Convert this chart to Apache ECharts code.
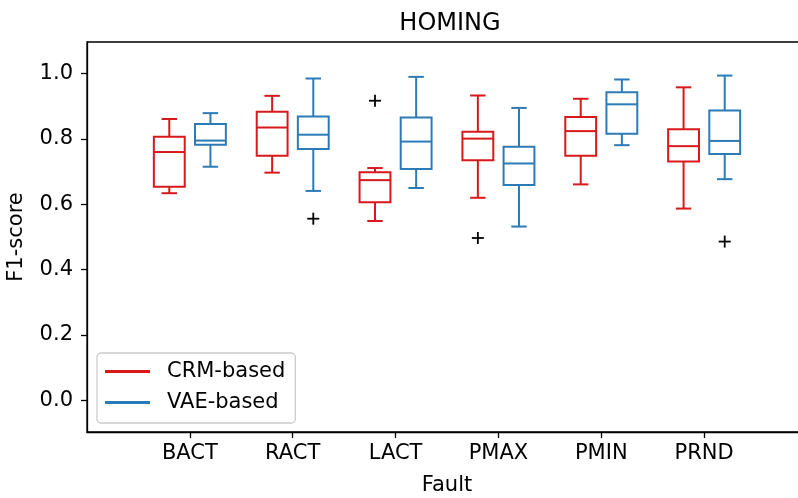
<!DOCTYPE html>
<html>
<head>
<meta charset="utf-8">
<script src="https://cdn.jsdelivr.net/npm/echarts@6/dist/echarts.min.js"></script>
<style>
  html, body { margin: 0; padding: 0; background: #fff; }
  #chart { width: 798px; height: 498px; }
</style>
</head>
<body>
<div id="chart"></div>
<script>
// Fault categories on the x axis
const categories = ['BACT', 'RACT', 'LACT', 'PMAX', 'PMIN', 'PRND'];

// Box statistics per fault: [lower whisker, Q1, median, Q3, upper whisker]
const crmStats = [
  [0.634, 0.654, 0.760, 0.807, 0.861],
  [0.697, 0.749, 0.835, 0.883, 0.932],
  [0.549, 0.606, 0.674, 0.698, 0.711],
  [0.620, 0.735, 0.801, 0.822, 0.933],
  [0.661, 0.749, 0.824, 0.867, 0.923],
  [0.587, 0.731, 0.778, 0.830, 0.958]
];
const vaeStats = [
  [0.715, 0.782, 0.795, 0.846, 0.879],
  [0.641, 0.769, 0.813, 0.869, 0.985],
  [0.650, 0.708, 0.792, 0.866, 0.990],
  [0.532, 0.659, 0.725, 0.776, 0.895],
  [0.781, 0.816, 0.906, 0.943, 0.982],
  [0.677, 0.754, 0.794, 0.887, 0.994]
];

// Outliers: [category index, value]
const crmOutliers = [[2, 0.917], [3, 0.497]];
const vaeOutliers = [[1, 0.556], [5, 0.486]];

// Y axis tick values
const yTicks = [0.0, 0.2, 0.4, 0.6, 0.8, 1.0];

const CRM_COLOR = '#d7191c';
const VAE_COLOR = '#2c7bb6';
const FONT = 'DejaVu Sans';
const BOX_W = 0.3;
const OFFSET = 0.2;
const X_MAX = 7;

function boxData(stats) {
  return stats.map((s, i) => [i + 1].concat(s));
}

function boxRenderer(offset, color) {
  return function (params, api) {
    const x = api.value(0) + offset;
    const lo = api.coord([x, api.value(1)]);
    const q1 = api.coord([x, api.value(2)]);
    const med = api.coord([x, api.value(3)]);
    const q3 = api.coord([x, api.value(4)]);
    const hi = api.coord([x, api.value(5)]);
    const w = api.size([BOX_W, 0])[0];
    const cw = w / 2;
    const cx = q1[0];
    const style = { stroke: color, lineWidth: 2, fill: null };
    const line = (x1, y1, x2, y2) => ({
      type: 'line', shape: { x1, y1, x2, y2 }, style
    });
    return {
      type: 'group',
      children: [
        { type: 'rect', shape: { x: cx - w / 2, y: q3[1], width: w, height: q1[1] - q3[1] }, style },
        line(cx - w / 2, med[1], cx + w / 2, med[1]),
        line(cx, q3[1], cx, hi[1]),
        line(cx, q1[1], cx, lo[1]),
        line(cx - cw / 2, hi[1], cx + cw / 2, hi[1]),
        line(cx - cw / 2, lo[1], cx + cw / 2, lo[1])
      ]
    };
  };
}

function outlierRenderer(offset) {
  return function (params, api) {
    const p = api.coord([api.value(0) + 1 + offset, api.value(1)]);
    const h = 6;
    const style = { stroke: '#000', lineWidth: 1.8 };
    return {
      type: 'group',
      children: [
        { type: 'line', shape: { x1: p[0] - h, y1: p[1], x2: p[0] + h, y2: p[1] }, style },
        { type: 'line', shape: { x1: p[0], y1: p[1] - h, x2: p[0], y2: p[1] + h }, style }
      ]
    };
  };
}

const chart = echarts.init(document.getElementById('chart'), null, { renderer: 'canvas' });

const tickPositions = categories.map((c, i) => i + 1);

chart.setOption({
  animation: false,
  backgroundColor: '#fff',
  textStyle: { fontFamily: FONT },
  title: {
    text: 'HOMING',
    left: 445,
    top: 7,
    textAlign: 'center',
    textStyle: { fontFamily: FONT, fontSize: 24, fontWeight: 'normal', color: '#000' }
  },
  grid: {
    left: 87,
    top: 42,
    width: 720,
    height: 390,
    outerBoundsMode: 'none',
    containLabel: false,
    show: true,
    borderColor: '#000',
    borderWidth: 1.3,
    backgroundColor: 'transparent'
  },
  legend: {
    orient: 'vertical',
    left: 97,
    top: 353,
    padding: [8, 10, 10, 8],
    itemGap: 10,
    itemWidth: 45,
    itemHeight: 3,
    icon: 'rect',
    backgroundColor: 'rgba(255,255,255,0.8)',
    borderColor: '#cccccc',
    borderWidth: 1.3,
    borderRadius: 4,
    textStyle: { fontFamily: FONT, fontSize: 21, color: '#000', padding: [0, 0, 0, 12] },
    data: ['CRM-based', 'VAE-based']
  },
  xAxis: {
    type: 'value',
    min: 0,
    max: X_MAX,
    name: 'Fault',
    nameLocation: 'middle',
    nameGap: 43,
    nameTextStyle: { fontFamily: FONT, fontSize: 21, color: '#000' },
    splitLine: { show: false },
    axisLine: { show: true, onZero: false, lineStyle: { color: '#000', width: 1.3 } },
    axisTick: {
      show: true, length: 6, lineStyle: { color: '#000', width: 1.3 },
      customValues: tickPositions
    },
    axisLabel: {
      fontFamily: FONT, fontSize: 21, color: '#000', margin: 11,
      customValues: tickPositions,
      formatter: v => categories[Math.round(v) - 1] || ''
    }
  },
  yAxis: {
    type: 'value',
    min: -0.0967,
    max: 1.0967,
    name: 'F1-score',
    nameLocation: 'middle',
    nameGap: 60,
    nameTextStyle: { fontFamily: FONT, fontSize: 21, color: '#000' },
    splitLine: { show: false },
    axisLine: { show: true, onZero: false, lineStyle: { color: '#000', width: 1.3 } },
    axisTick: {
      show: true, length: 6, lineStyle: { color: '#000', width: 1.3 },
      customValues: yTicks
    },
    axisLabel: {
      fontFamily: FONT, fontSize: 21, color: '#000', margin: 14,
      customValues: yTicks,
      formatter: v => v.toFixed(1)
    }
  },
  series: [
    {
      name: 'CRM-based',
      type: 'custom',
      itemStyle: { color: CRM_COLOR },
      renderItem: boxRenderer(-OFFSET, CRM_COLOR),
      encode: { x: 0, y: [1, 2, 3, 4, 5] },
      data: boxData(crmStats),
      z: 3
    },
    {
      name: 'VAE-based',
      type: 'custom',
      itemStyle: { color: VAE_COLOR },
      renderItem: boxRenderer(OFFSET, VAE_COLOR),
      encode: { x: 0, y: [1, 2, 3, 4, 5] },
      data: boxData(vaeStats),
      z: 3
    },
    {
      name: 'CRM outliers',
      type: 'custom',
      renderItem: outlierRenderer(-OFFSET),
      encode: { x: 0, y: 1 },
      data: crmOutliers,
      z: 4
    },
    {
      name: 'VAE outliers',
      type: 'custom',
      renderItem: outlierRenderer(OFFSET),
      encode: { x: 0, y: 1 },
      data: vaeOutliers,
      z: 4
    }
  ]
});
</script>
</body>
</html>
